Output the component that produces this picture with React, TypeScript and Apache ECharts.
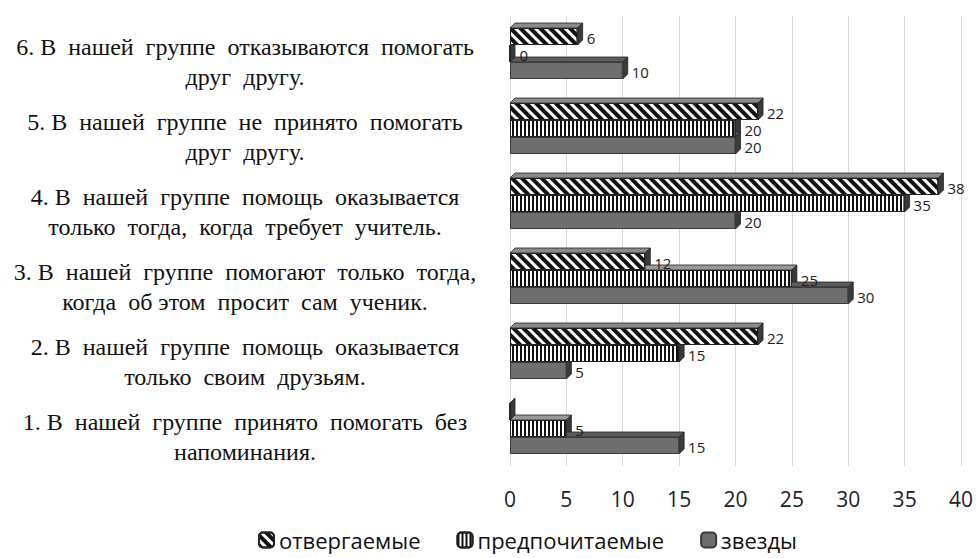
import React, { useEffect, useRef } from "react";
import * as echarts from "echarts";

const categories = [
  "1. В  нашей  группе  принято  помогать  без\nнапоминания.",
  "2. В  нашей  группе  помощь  оказывается\nтолько  своим  друзьям.",
  "3. В  нашей  группе  помогают  только  тогда,\nкогда  об этом  просит  сам  ученик.",
  "4. В  нашей  группе  помощь  оказывается\nтолько  тогда,  когда  требует  учитель.",
  "5. В  нашей  группе  не  принято  помогать\nдруг  другу.",
  "6. В  нашей  группе  отказываются  помогать\nдруг  другу.",
];
const seriesNames = ["отвергаемые", "предпочитаемые", "звезды"];
const rejected = [0, 22, 12, 38, 22, 6];
const preferred = [5, 15, 25, 35, 20, 0];
const stars = [15, 5, 30, 20, 20, 10];
const xTicks = { min: 0, max: 40, interval: 5 };

const BAR_W = 17;
const DEPTH = 5;
const TOP_FILLS = ["#8a8a8a", "#9a9a9a", "#5c5c5c"];
const SIDE_FILL = "#3a3a3a";

export default function App() {
  const ref = useRef<HTMLDivElement>(null);
  useEffect(() => {
    if (!ref.current) return;
    const chart = echarts.init(ref.current, null, { renderer: "svg" });
    const labelStyle = {
      show: true,
      position: "right" as const,
      distance: 9,
      fontFamily: "Open Sans",
      fontSize: 15,
      lineHeight: 15,
      color: "#222",
      offset: [0, 1],
    };
    const depthData = categories.map((_, i) => [i, rejected[i], preferred[i], stars[i]]);
    chart.setOption({
      animation: false,
      backgroundColor: "#ffffff",
      grid: { left: 510, right: 4, top: 16, bottom: 92, containLabel: false },
      legend: {
        bottom: 2,
        left: 253,
        itemWidth: 15,
        itemHeight: 15,
        itemGap: 36,
        textStyle: { fontFamily: "Open Sans", fontSize: 22, color: "#111" },
        data: seriesNames,
      },
      xAxis: {
        type: "value",
        min: xTicks.min,
        max: xTicks.max,
        interval: xTicks.interval,
        axisLine: { show: false },
        axisTick: { show: false },
        axisLabel: { margin: 22, fontFamily: "Open Sans", fontSize: 21, color: "#222" },
        splitLine: { show: true, lineStyle: { color: "#d9d9d9", width: 1 } },
      },
      yAxis: {
        type: "category",
        data: categories,
        axisLine: { show: false },
        axisTick: { show: false },
        axisLabel: {
          interval: 0,
          margin: 265,
          align: "center",
          formatter: (v: string) =>
            "{s| }\n" + v.split("\n").map((l) => `{a|${l}}`).join("\n"),
          rich: {
            s: { fontSize: 2, lineHeight: 16 },
            a: {
              fontFamily: "Liberation Serif",
              fontSize: 24,
              lineHeight: 30,
              color: "#111",
            },
          },
        },
      },
      series: [
        {
          type: "custom",
          name: "depth",
          coordinateSystem: "cartesian2d",
          data: depthData,
          encode: { x: 1, y: 0 },
          z: 1,
          silent: true,
          renderItem: (params: any, api: any) => {
            const i = api.value(0);
            const c0 = api.coord([0, i]);
            const children: any[] = [];
            for (let k = 0; k < 3; k++) {
              const v = api.value(k + 1);
              const ce = api.coord([v, i]);
              const x0 = c0[0];
              const x1 = ce[0];
              const yTop = c0[1] - 1.5 * BAR_W + k * BAR_W;
              const yBot = yTop + BAR_W;
              children.push({
                type: "polygon",
                shape: { points: [[x0, yTop], [x0 + DEPTH, yTop - DEPTH], [x1 + DEPTH, yTop - DEPTH], [x1, yTop]] },
                style: { fill: TOP_FILLS[k], stroke: "#222", lineWidth: 0.8 },
              });
              children.push({
                type: "polygon",
                shape: { points: [[x1, yTop], [x1 + DEPTH, yTop - DEPTH], [x1 + DEPTH, yBot - DEPTH], [x1, yBot]] },
                style: { fill: SIDE_FILL, stroke: "#222", lineWidth: 0.8 },
              });
            }
            return { type: "group", children };
          },
        },
        {
          name: seriesNames[0],
          type: "bar",
          z: 2,
          data: rejected.map((v, i) => (i === 0 ? { value: v, label: { show: false } } : v)),
          barWidth: BAR_W,
          barGap: "0%",
          itemStyle: {
            color: "#ffffff",
            borderColor: "#222",
            borderWidth: 1,
            decal: {
              symbol: "rect",
              symbolSize: 1,
              color: "#111",
              dashArrayX: [1, 0],
              dashArrayY: [4, 3],
              rotation: Math.PI / 4,
            },
          },
          label: labelStyle,
        },
        {
          name: seriesNames[1],
          type: "bar",
          z: 2,
          data: preferred,
          barWidth: BAR_W,
          barGap: "0%",
          itemStyle: {
            color: "#ffffff",
            borderColor: "#222",
            borderWidth: 1,
            decal: {
              symbol: "rect",
              symbolSize: 1,
              color: "#111",
              dashArrayX: [2, 2],
              dashArrayY: [1, 0],
              rotation: 0,
            },
          },
          label: labelStyle,
        },
        {
          name: seriesNames[2],
          type: "bar",
          z: 2,
          data: stars,
          barWidth: BAR_W,
          barGap: "0%",
          itemStyle: { color: "#6e6e6e", borderColor: "#3a3a3a", borderWidth: 1 },
          label: labelStyle,
        },
      ],
    });
    return () => chart.dispose();
  }, []);
  return <div ref={ref} style={{ width: 976, height: 558, position: "absolute", left: 0, top: 0 }} />;
}
